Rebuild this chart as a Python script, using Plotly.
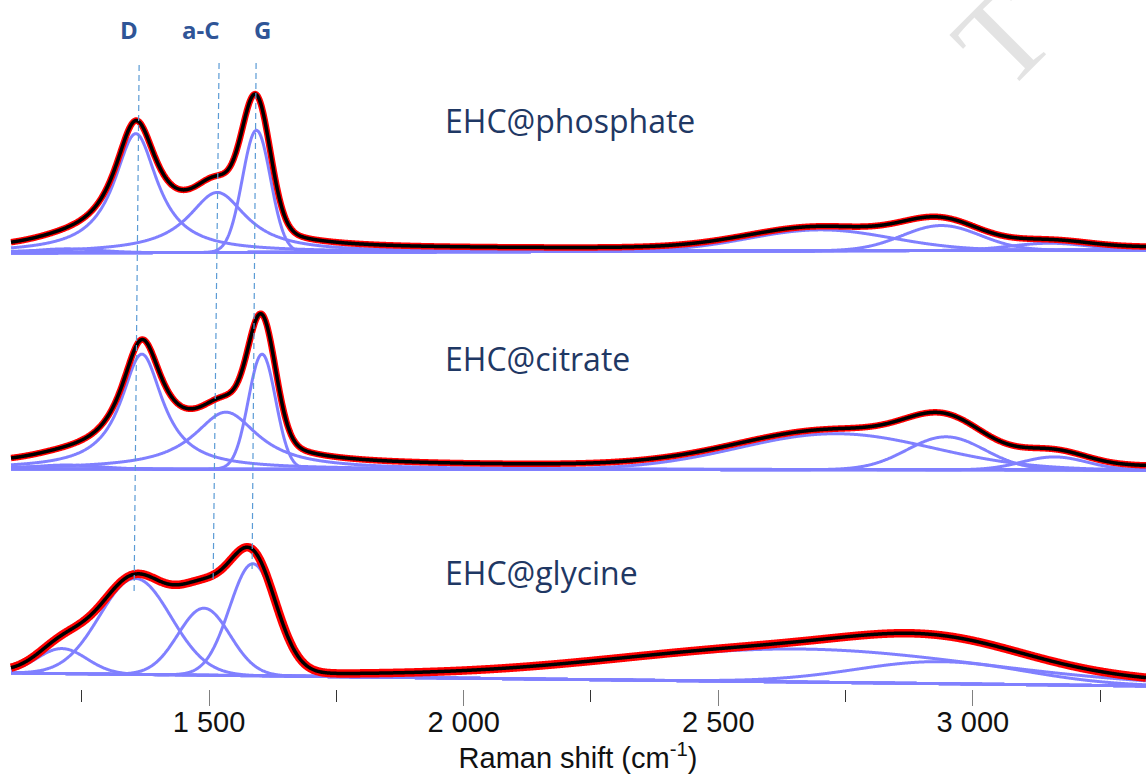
import numpy as np
import plotly.graph_objects as go

# ---------------- data ----------------
samples = ["EHC@phosphate", "EHC@citrate", "EHC@glycine"]

# fitted bands: centre (cm-1), height (a.u.), FWHM (cm-1), Lorentzian fraction
phosphate_centers = [1220, 1356, 1516, 1593, 2700, 2938, 3150]
phosphate_heights = [0.04, 1.19, 0.60, 1.22, 0.21, 0.25, 0.07]
phosphate_fwhm = [150, 104, 140, 65, 330, 180, 180]
phosphate_eta = [0, 1, 1, 0, 0, 0, 0]

citrate_centers = [1220, 1368, 1533, 1604, 2731, 2947, 3160]
citrate_heights = [0.04, 1.15, 0.57, 1.15, 0.36, 0.33, 0.13]
citrate_fwhm = [150, 100, 155, 63, 450, 180, 150]
citrate_eta = [0, 1, 1, 0, 0, 0, 0]

glycine_centers = [1211, 1355, 1490, 1586, 2662, 2937]
glycine_heights = [0.25, 0.96, 0.67, 1.12, 0.33, 0.22]
glycine_fwhm = [115, 165, 120, 108, 830, 393]
glycine_eta = [0, 0, 0, 0, 0, 0]

# vertical stacking: baseline level at the spectrum start / end, and fit offset
baseline_start = [4.36, 2.20, 0.16]
baseline_end = [4.39, 2.19, 0.03]
fit_offset = [0.03, 0.04, 0.02]

spectrum_start, spectrum_end = 1111, 3340

# band markers (D, a-C, G): position at top and bottom of guide line
band_labels = ["D", "a-C", "G"]
band_pos_top = [1362.6, 1519.6, 1592.3]
band_pos_bottom = [1352.7, 1507.9, 1584.4]
band_line_top = [6.24, 6.26, 6.26]
band_line_bottom = [0.95, 1.07, 1.17]
band_label_pos = [1343, 1484, 1604]

tick_vals = [1500, 2000, 2500, 3000]
tick_text = ["1 500", "2 000", "2 500", "3 000"]
minor_tick_vals = [1250, 1750, 2250, 2750, 3250]

# ---------------- build figure ----------------
x = np.linspace(spectrum_start, spectrum_end, 2200)


def band(xx, c, h, w, eta):
    lor = 1.0 / (1.0 + ((xx - c) / (w / 2.0)) ** 2)
    gau = np.exp(-4 * np.log(2) * ((xx - c) / w) ** 2)
    return h * (eta * lor + (1 - eta) * gau)


params = [
    (phosphate_centers, phosphate_heights, phosphate_fwhm, phosphate_eta),
    (citrate_centers, citrate_heights, citrate_fwhm, citrate_eta),
    (glycine_centers, glycine_heights, glycine_fwhm, glycine_eta),
]
red_width = [6.5, 6.5, 8.5]

BLUE = "#8080FF"
fig = go.Figure()

for i, (cs, hs, ws, es) in enumerate(params):
    base = baseline_start[i] + (baseline_end[i] - baseline_start[i]) * (x - spectrum_start) / (spectrum_end - spectrum_start)
    total = base + fit_offset[i]
    for c, h, w, e in zip(cs, hs, ws, es):
        comp = band(x, c, h, w, e)
        total = total + comp
        fig.add_trace(go.Scatter(x=x, y=base + comp, mode="lines",
                                 line=dict(color=BLUE, width=3, simplify=False),
                                 hoverinfo="skip", showlegend=False))
    fig.add_trace(go.Scatter(x=x, y=total, mode="lines",
                             line=dict(color="#FF0000", width=red_width[i], simplify=False),
                             showlegend=False, hoverinfo="skip"))
    fig.add_trace(go.Scatter(x=x, y=total, mode="lines",
                             line=dict(color="#000000", width=3.5, simplify=False),
                             showlegend=False, name=samples[i]))

for xt, xb, yt, yb in zip(band_pos_top, band_pos_bottom, band_line_top, band_line_bottom):
    fig.add_trace(go.Scatter(x=[xt, xb], y=[yt, yb], mode="lines",
                             line=dict(color="#5B9BD5", width=1.2, dash="6px,4px"),
                             showlegend=False, hoverinfo="skip"))

annotations = []
for lab, xp in zip(band_labels, band_label_pos):
    annotations.append(dict(x=xp, y=6.60, xref="x", yref="y", text="<b>%s</b>" % lab,
                            showarrow=False, xanchor="center", yanchor="middle",
                            font=dict(family="Open Sans", size=24, color="#2F5597")))

sample_label_y = [5.69, 3.31, 1.17]
for s, yv in zip(samples, sample_label_y):
    annotations.append(dict(x=1960, y=yv, xref="x", yref="y", text=s, showarrow=False,
                            xanchor="left", yanchor="middle",
                            font=dict(family="Open Sans", size=32, color="#1F3864")))

# faint watermark fragment
annotations.append(dict(x=0.874, y=0.945, xref="paper", yref="paper", text="T",
                        showarrow=False, textangle=-45, xanchor="center", yanchor="middle",
                        font=dict(family="Liberation Serif", size=125, color="#E3E3E3")))

fig.update_layout(
    width=1146, height=776,
    margin=dict(l=10, r=0, t=0, b=87),
    paper_bgcolor="white", plot_bgcolor="white",
    annotations=annotations,
    xaxis=dict(range=[1109, 3340], showgrid=False, zeroline=False, showline=False,
               tickmode="array", tickvals=tick_vals, ticktext=tick_text,
               ticks="outside", ticklen=16, tickwidth=1.3, tickcolor="#808080",
               ticklabelstandoff=-9,
               tickfont=dict(family="Liberation Sans", size=29, color="#111111"),
               minor=dict(tickvals=minor_tick_vals, ticks="outside", ticklen=12,
                          tickwidth=1.3, tickcolor="#333333"),
               title=dict(text="Raman shift (cm<sup>-1</sup>)", standoff=6,
                          font=dict(family="Liberation Sans", size=29, color="#111111"))),
    yaxis=dict(range=[0, 6.89], visible=False, showgrid=False, zeroline=False),
)

fig.write_html("out.html")
